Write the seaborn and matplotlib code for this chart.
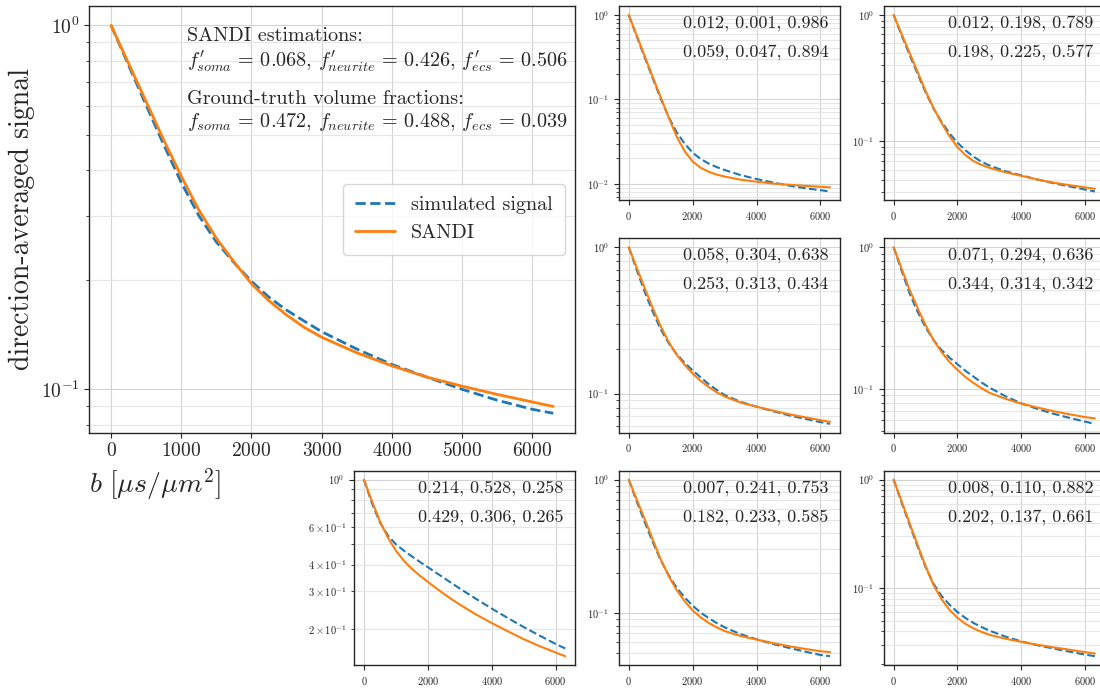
import matplotlib
matplotlib.use("Agg")
import matplotlib.pyplot as plt
import seaborn as sns
from matplotlib.gridspec import GridSpec

b_values = [0, 250, 500, 750, 1000, 1250, 1500, 1750, 2000, 2250, 2500, 2750,
            3000, 3500, 4000, 4500, 5000, 5500, 6000, 6300]

# main panel
sim_main = [1.0, 0.776, 0.603, 0.470, 0.370, 0.300, 0.254, 0.223, 0.198, 0.179,
            0.165, 0.154, 0.144, 0.129, 0.117, 0.108, 0.100, 0.0933, 0.0881, 0.0859]
sandi_main = [1.0, 0.785, 0.617, 0.484, 0.385, 0.311, 0.260, 0.224, 0.195, 0.175,
              0.160, 0.148, 0.139, 0.126, 0.116, 0.108, 0.102, 0.0968, 0.0923, 0.0897]

# small panels
sim_a = [1.0, 0.556, 0.313, 0.178, 0.102, 0.0617, 0.0407, 0.0299, 0.0234, 0.0197,
         0.0174, 0.0158, 0.0146, 0.0127, 0.0114, 0.0104, 0.00955, 0.00891, 0.00841, 0.00813]
sandi_a = [1.0, 0.569, 0.324, 0.184, 0.106, 0.0610, 0.0363, 0.0243, 0.0184, 0.0155,
           0.0139, 0.0129, 0.0122, 0.0112, 0.0106, 0.0101, 0.00977, 0.00948, 0.00923, 0.00908]

sim_b = [1.0, 0.692, 0.484, 0.343, 0.245, 0.182, 0.143, 0.116, 0.0977, 0.0851,
         0.0759, 0.0692, 0.0646, 0.0582, 0.0540, 0.0501, 0.0468, 0.0442, 0.0417, 0.0403]
sandi_b = [1.0, 0.708, 0.501, 0.355, 0.251, 0.184, 0.140, 0.110, 0.0902, 0.0780,
           0.0700, 0.0653, 0.0619, 0.0571, 0.0535, 0.0501, 0.0473, 0.0452, 0.0434, 0.0423]

sim_c = [1.0, 0.700, 0.495, 0.363, 0.275, 0.221, 0.186, 0.162, 0.144, 0.129,
         0.116, 0.106, 0.0977, 0.0877, 0.0813, 0.0759, 0.0711, 0.0673, 0.0638, 0.0621]
sandi_c = [1.0, 0.724, 0.525, 0.385, 0.288, 0.225, 0.184, 0.157, 0.137, 0.122,
           0.111, 0.102, 0.0955, 0.0867, 0.0813, 0.0766, 0.0724, 0.0689, 0.0658, 0.0641]

sim_d = [1.0, 0.684, 0.473, 0.351, 0.272, 0.221, 0.188, 0.166, 0.149, 0.134,
         0.122, 0.111, 0.102, 0.0887, 0.0789, 0.0721, 0.0667, 0.0624, 0.0586, 0.0566]
sandi_d = [1.0, 0.708, 0.501, 0.372, 0.282, 0.221, 0.182, 0.155, 0.136, 0.121,
           0.110, 0.101, 0.0938, 0.0851, 0.0785, 0.0738, 0.0695, 0.0661, 0.0631, 0.0618]

sim_e = [1.0, 0.776, 0.631, 0.547, 0.498, 0.465, 0.437, 0.412, 0.389, 0.367,
         0.347, 0.327, 0.309, 0.277, 0.249, 0.225, 0.204, 0.186, 0.170, 0.162]
sandi_e = [1.0, 0.794, 0.638, 0.535, 0.465, 0.417, 0.382, 0.355, 0.332, 0.311,
           0.292, 0.275, 0.260, 0.234, 0.213, 0.195, 0.179, 0.166, 0.155, 0.149]

sim_f = [1.0, 0.684, 0.479, 0.340, 0.248, 0.191, 0.154, 0.130, 0.113, 0.100,
         0.0912, 0.0836, 0.0776, 0.0689, 0.0631, 0.0583, 0.0545, 0.0511, 0.0481, 0.0471]
sandi_f = [1.0, 0.708, 0.504, 0.355, 0.252, 0.188, 0.148, 0.122, 0.104, 0.0923,
           0.0838, 0.0776, 0.0728, 0.0668, 0.0628, 0.0592, 0.0561, 0.0535, 0.0513, 0.0506]

sim_g = [1.0, 0.617, 0.385, 0.243, 0.157, 0.110, 0.0851, 0.0705, 0.0603, 0.0532,
         0.0479, 0.0440, 0.0407, 0.0359, 0.0324, 0.0299, 0.0279, 0.0261, 0.0245, 0.0237]
sandi_g = [1.0, 0.631, 0.398, 0.251, 0.160, 0.107, 0.0794, 0.0631, 0.0535, 0.0470,
           0.0427, 0.0396, 0.0373, 0.0343, 0.0321, 0.0302, 0.0286, 0.0272, 0.0258, 0.0251]

# "estimated" line over "ground truth" line for each small panel
est_labels = ["0.012, 0.001, 0.986", "0.012, 0.198, 0.789", "0.058, 0.304, 0.638",
              "0.071, 0.294, 0.636", "0.214, 0.528, 0.258", "0.007, 0.241, 0.753",
              "0.008, 0.110, 0.882"]
gt_labels = ["0.059, 0.047, 0.894", "0.198, 0.225, 0.577", "0.253, 0.313, 0.434",
             "0.344, 0.314, 0.342", "0.429, 0.306, 0.265", "0.182, 0.233, 0.585",
             "0.202, 0.137, 0.661"]

main_xticks = [0, 1000, 2000, 3000, 4000, 5000, 6000]
small_xticks = [0, 2000, 4000, 6000]

sns.set_theme(style="ticks")
plt.rcParams["font.family"] = "serif"
plt.rcParams["font.serif"] = ["cmr10"]
plt.rcParams["mathtext.fontset"] = "cm"
plt.rcParams["axes.formatter.use_mathtext"] = True
plt.rcParams["axes.edgecolor"] = "0.15"
plt.rcParams["axes.linewidth"] = 1.0

BLUE = "#1f77b4"
ORANGE = "#ff7f0e"

fig = plt.figure(figsize=(11, 6.89), dpi=100)
gs = GridSpec(3, 4, figure=fig, left=0.0809, right=1.0045, top=0.9913,
              bottom=0.0348, wspace=0.196, hspace=0.196)


def style_axis(ax, fs):
    ax.set_yscale("log")
    ax.grid(True, which="major", color="#d4d4d4", linewidth=0.8)
    ax.grid(True, which="minor", axis="y", color="#e6e6e6", linewidth=0.8)
    ax.set_axisbelow(True)
    ax.tick_params(axis="both", which="major", labelsize=fs, length=3.5, width=0.8)
    ax.tick_params(axis="y", which="minor", labelsize=fs, length=2, width=0.6)
    for s in ax.spines.values():
        s.set_visible(True)


ax_main = fig.add_subplot(gs[0:2, 0:2])
sns.lineplot(x=b_values, y=sim_main, ax=ax_main, color=BLUE, linestyle="--",
             linewidth=2.0, label="simulated signal")
sns.lineplot(x=b_values, y=sandi_main, ax=ax_main, color=ORANGE, linewidth=2.0,
             label="SANDI")
style_axis(ax_main, 14)
ax_main.set_xticks(main_xticks)
ax_main.set_ylabel("direction-averaged signal", fontsize=20)
ax_main.set_xlabel(r"$b\ [\mu s/\mu m^2]$", fontsize=20, loc="left")
ax_main.legend(loc="center right", fontsize=14.5, frameon=True, borderpad=0.6)

ax_main.text(0.2016, 0.896,
             "SANDI estimations:\n"
             r"$f_{soma}^{\prime}\,=\,0.068$, $f_{neurite}^{\prime}\,=\,0.426$, "
             r"$f_{ecs}^{\prime}\,=\,0.506$",
             transform=ax_main.transAxes, ha="left", va="center", fontsize=14.5)
ax_main.text(0.2016, 0.753,
             "Ground-truth volume fractions:\n"
             r"$f_{soma}\,=\,0.472$, $f_{neurite}\,=\,0.488$, $f_{ecs}\,=\,0.039$",
             transform=ax_main.transAxes, ha="left", va="center", fontsize=14.5)

cells = [gs[0, 2], gs[0, 3], gs[1, 2], gs[1, 3], gs[2, 1], gs[2, 2], gs[2, 3]]
sims = [sim_a, sim_b, sim_c, sim_d, sim_e, sim_f, sim_g]
sandis = [sandi_a, sandi_b, sandi_c, sandi_d, sandi_e, sandi_f, sandi_g]

for cell, sim, sandi, est, gt in zip(cells, sims, sandis, est_labels, gt_labels):
    ax = fig.add_subplot(cell)
    sns.lineplot(x=b_values, y=sim, ax=ax, color=BLUE, linestyle="--", linewidth=1.5)
    sns.lineplot(x=b_values, y=sandi, ax=ax, color=ORANGE, linewidth=1.5)
    style_axis(ax, 7.5)
    ax.set_xticks(small_xticks)
    ax.text(0.947, 0.912, est, transform=ax.transAxes, ha="right", va="center",
            fontsize=13)
    ax.text(0.947, 0.763, gt, transform=ax.transAxes, ha="right", va="center",
            fontsize=13)

plt.savefig("out.png", dpi=100)
